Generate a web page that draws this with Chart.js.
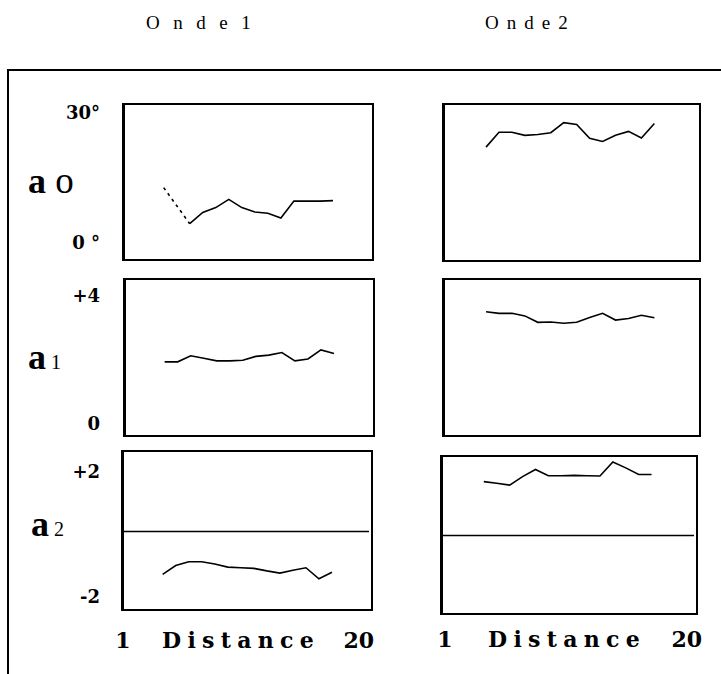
<!DOCTYPE html>
<html>
<head>
<meta charset="utf-8">
<script src="https://cdn.jsdelivr.net/npm/chart.js@4"></script>
<style>
  html, body { margin: 0; padding: 0; background: #fff; }
  body { position: relative; width: 721px; height: 674px; overflow: hidden; color: #000; }
  .frame { position: absolute; left: 7px; top: 69px; width: 730px; height: 620px;
           border-top: 2px solid #000; border-left: 2px solid #000; }
  .txt { position: absolute; white-space: nowrap; line-height: 1; }
  .title { font-family: "Liberation Serif", serif; font-size: 19px; }
  .tick { font-family: "DejaVu Serif", serif; font-weight: bold; font-size: 18px; text-align: right; width: 100px; left: 0; }
  .xlab { font-family: "DejaVu Serif", serif; font-weight: bold; font-size: 22px; }
  .row { font-family: "Liberation Serif", serif; }
  .row b { font-size: 36px; }
  canvas { position: absolute; }
</style>
</head>
<body>
<div class="frame"></div>
<script>
// x positions (distance index) where each profile was sampled
const distance = [4, 5, 6, 7, 8, 9, 10, 11, 12, 13, 14, 15, 16, 17];

// a0 (degrees)
const a0Onde1 = [12.8, null, 4.5, 7.1, 8.2, 10.1, 8.2, 7.2, 6.9, 5.8, 9.7, 9.7, 9.7, 9.8];
const a0Onde2 = [22.2, 25.6, 25.6, 24.9, 25.1, 25.5, 27.8, 27.4, 24.2, 23.5, 24.9, 25.8, 24.3, 27.6];
// a1
const a1Onde1 = [1.94, 1.94, 2.13, 2.05, 1.97, 1.97, 1.99, 2.11, 2.15, 2.23, 1.97, 2.03, 2.31, 2.20];
const a1Onde2 = [3.50, 3.45, 3.45, 3.37, 3.17, 3.18, 3.14, 3.17, 3.32, 3.45, 3.24, 3.29, 3.39, 3.31];
// a2
const a2Onde1 = [-1.39, -1.11, -0.99, -0.99, -1.06, -1.16, -1.18, -1.20, -1.28, -1.35, -1.26, -1.18, -1.53, -1.32];
const a2Onde2 = [1.70, 1.65, 1.59, 1.86, 2.09, 1.89, 1.89, 1.90, 1.89, 1.88, 2.33, 2.14, 1.93, 1.93];

const columnTitles = ['Onde1', 'Onde2'];
const rowNames = [['a', 'o'], ['a', '1'], ['a', '2']];
const yTickLabels = [['30°', '0 °'], ['+4', '0'], ['+2', '-2']];
const xTickLabels = ['1', 'Distance', '20'];

// draws the box round each panel, and the zero line where asked
const panelFrame = {
  id: 'panelFrame',
  afterDatasetsDraw(chart, args, opts) {
    const { ctx, chartArea: a } = chart;
    ctx.save();
    ctx.strokeStyle = '#000';
    if (opts.zero) {
      const y0 = Math.round(chart.scales.y.getPixelForValue(0)) + 0.5;
      ctx.lineWidth = 1.6;
      ctx.beginPath();
      ctx.moveTo(a.left, y0);
      ctx.lineTo(a.right - 4, y0);
      ctx.stroke();
    }
    ctx.lineWidth = 2;
    ctx.strokeRect(a.left + 1, a.top + 1, a.width - 2, a.height - 2);
    ctx.lineWidth = 3;
    ctx.beginPath();
    ctx.moveTo(a.left + 1.5, a.top);
    ctx.lineTo(a.left + 1.5, a.bottom);
    ctx.stroke();
    ctx.restore();
  }
};

// a missing sample is bridged with a dashed stroke
const skipped = (ctx, value) => (ctx.p0.skip || ctx.p1.skip ? value : undefined);

function makePanel(box, values, xRange, yRange, zero) {
  const canvas = document.createElement('canvas');
  canvas.width = box[2];
  canvas.height = box[3];
  canvas.style.left = box[0] + 'px';
  canvas.style.top = box[1] + 'px';
  document.body.appendChild(canvas);

  new Chart(canvas.getContext('2d'), {
    type: 'line',
    data: {
      labels: distance,
      datasets: [{
        data: values,
        borderColor: '#000',
        borderWidth: 1.6,
        pointRadius: 0,
        tension: 0,
        spanGaps: true,
        segment: { borderDash: ctx => skipped(ctx, [3, 4]) }
      }]
    },
    options: {
      responsive: false,
      animation: false,
      layout: { padding: 0 },
      plugins: { legend: { display: false }, tooltip: { enabled: false }, panelFrame: { zero } },
      scales: {
        x: { type: 'linear', display: false, min: xRange[0], max: xRange[1] },
        y: { display: false, min: yRange[0], max: yRange[1] }
      }
    },
    plugins: [panelFrame]
  });
}

const xLeft = [0.8, 20.15];
const xRight = [0.6, 20.6];
makePanel([122, 103, 252, 158], a0Onde1, xLeft, [-4.1, 32.3], false);
makePanel([442, 103, 259, 159], a0Onde2, xRight, [-4.1, 32.3], false);
makePanel([123, 278, 252, 159], a1Onde1, xLeft, [-0.40, 4.55], false);
makePanel([442, 278, 259, 159], a1Onde2, xRight, [-0.40, 4.55], false);
makePanel([121, 450, 252, 161], a2Onde1, xLeft, [-2.55, 2.55], true);
makePanel([440, 455, 258, 160], a2Onde2, xRight, [-2.55, 2.55], true);

function addText(cls, html, style) {
  const el = document.createElement('div');
  el.className = 'txt ' + cls;
  el.innerHTML = html;
  Object.assign(el.style, style);
  document.body.appendChild(el);
  return el;
}

// column titles
addText('title', columnTitles[0], { left: '146px', top: '13px', letterSpacing: '13.5px' });
addText('title', columnTitles[1], { left: '485px', top: '13px', letterSpacing: '8px' });

// row names
const rowTops = [162, 339, 506];
const rowLefts = [28, 28, 31];
rowNames.forEach((r, i) => {
  const sub = i === 0
    ? `<span style="font-size:37px"> ${r[1]}</span>`
    : `<span style="font-size:20px"> ${r[1]}</span>`;
  addText('row', `<b>${r[0]}</b>${sub}`, { left: rowLefts[i] + 'px', top: rowTops[i] + 'px', fontSize: '36px' });
});

// y tick labels (top, bottom) for each row
const tickTops = [[104, 234], [287, 415], [463, 588]];
yTickLabels.forEach((pair, i) => {
  addText('tick', pair[0], { top: tickTops[i][0] + 'px' });
  addText('tick', pair[1], { top: tickTops[i][1] + 'px' });
});

// x labels under both bottom panels
[[123, 162, 374, 629], [445, 488, 702, 628]].forEach(p => {
  addText('xlab', xTickLabels[0], { left: (p[0] - 20) + 'px', width: '40px', textAlign: 'center', top: p[3] + 'px' });
  addText('xlab', xTickLabels[1], { left: p[1] + 'px', top: p[3] + 'px', letterSpacing: '6.3px' });
  addText('xlab', xTickLabels[2], { left: (p[2] - 60) + 'px', width: '60px', textAlign: 'right', top: p[3] + 'px' });
});
</script>
</body>
</html>
